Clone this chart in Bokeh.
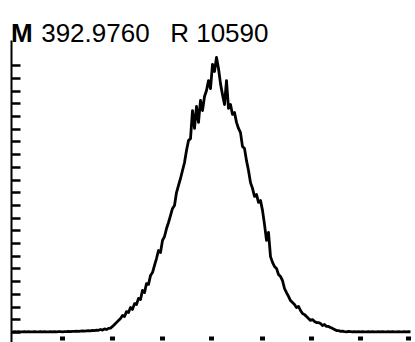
import numpy as np
from bokeh.plotting import figure
from bokeh.models import Range1d, FixedTicker, Label, CustomJSTickFormatter
from bokeh.embed import file_html
from bokeh.resources import INLINE

# sampling grid of the isotope envelope (arbitrary channel units)
channel = np.arange(12, 412, 2)

# relative intensity (%)
intensity = [
    # flat start
    0.2, 0.3, 0.2, 0.3, 0.2, 0.2, 0.3, 0.2, 0.3, 0.2,
    0.2, 0.3, 0.2, 0.2, 0.3, 0.2, 0.3, 0.2, 0.2, 0.3,
    0.2, 0.3, 0.2, 0.3, 0.3, 0.2, 0.3, 0.3, 0.4, 0.3,
    0.4, 0.4, 0.5, 0.4, 0.5, 0.6, 0.5, 0.6, 0.7, 0.6, 0.8, 0.7, 0.9, 0.8,
    # rising edge
    1.1, 0.9, 1.3, 1.1, 1.5, 1.6, 2.2, 2.9, 3.6, 4.4,
    5.1, 6.2, 5.8, 7.6, 7.3, 9.1, 8.4, 10.5, 10.2, 12.4,
    12.0, 15.3, 14.5, 17.8, 17.5, 20.7, 21.8, 24.4, 26.9, 29.8,
    29.1, 33.5, 34.9, 37.8, 40.0, 42.5, 45.1, 46.2, 50.9, 53.5,
    56.0, 58.9, 61.8,
    # top
    66.2, 69.8, 70.5, 80.7, 74.2, 82.2, 76.4, 84.4, 80.7, 85.8,
    88.0, 91.6, 88.7, 97.5, 94.9, 100.0, 96.0, 90.5, 86.5, 82.9,
    91.6, 81.5, 82.9, 79.3, 80.0, 76.4, 74.2, 72.7, 67.6, 66.9,
    62.5, 58.9, 54.5, 52.4, 49.5, 50.2, 47.3, 48.0, 44.4, 39.3,
    33.5, 36.4, 27.6, 25.5,
    # falling edge
    24.0, 23.3, 21.1, 20.4, 18.9, 16.0, 14.5, 13.1, 11.6, 10.9,
    10.2, 9.1, 9.5, 8.0, 6.9, 6.5, 5.8, 5.1, 4.4, 4.7,
    4.0, 3.6, 3.6, 3.3, 2.5, 2.9, 2.2, 2.2, 1.8, 1.5,
    1.1, 0.7, 0.7, 0.4, 0.5,
    # flat end
    0.3, 0.2, 0.4, 0.3, 0.2, 0.3, 0.2, 0.3, 0.2, 0.3,
    0.2, 0.2, 0.3, 0.2, 0.3, 0.2, 0.2, 0.3, 0.2, 0.3,
    0.2, 0.2, 0.3, 0.2, 0.3, 0.2, 0.2, 0.3, 0.2, 0.2,
    0.3, 0.2, 0.3, 0.2,
]

x_ticks = [62, 112, 162, 211, 262, 311, 360, 408]
y_ticks = [0.0, 4.62, 9.24, 13.86, 18.48, 23.1, 27.72, 32.34, 36.96, 41.58, 46.2,
           50.82, 55.44, 60.06, 64.68, 69.3, 73.92, 78.54, 83.16, 87.78, 92.4, 97.02]

title_m = "M"
title_mass = "392.9760"
title_res = "R 10590"

# frame covers the whole canvas; axes are pinned inside it
p = figure(width=415, height=342, output_backend="svg", toolbar_location=None,
           x_range=Range1d(0, 415), y_range=Range1d(-3.636, 120.727),
           min_border_left=0, min_border_right=0, min_border_top=0, min_border_bottom=0)
p.background_fill_color = "white"
p.border_fill_color = "white"
p.outline_line_color = None
p.grid.visible = False

blank = CustomJSTickFormatter(code="return ''")

xa = p.xaxis[0]
xa.fixed_location = -1.4545
xa.ticker = FixedTicker(ticks=x_ticks)
xa.formatter = blank
xa.axis_line_color = None
xa.major_tick_out = 4
xa.major_tick_in = 0
xa.major_tick_line_width = 5
xa.major_tick_line_color = "black"
xa.minor_tick_line_color = None

ya = p.yaxis[0]
ya.fixed_location = 11
ya.bounds = (-3.636, 106.18)
ya.ticker = FixedTicker(ticks=y_ticks)
ya.formatter = blank
ya.axis_line_width = 2
ya.axis_line_color = "black"
ya.major_tick_out = 0
ya.major_tick_in = 9
ya.major_tick_line_width = 2.5
ya.major_tick_line_color = "black"
ya.minor_tick_line_color = None

p.line(channel, intensity, line_color="black", line_width=2.8, line_join="round")

font = "Liberation Sans"
p.add_layout(Label(x=10.5, y=108.98, text=title_m, text_font=font, text_font_size="26px",
                   text_font_style="bold", text_baseline="alphabetic", text_align="left",
                   text_color="black"))
p.add_layout(Label(x=40.7, y=108.98, text=title_mass, text_font=font, text_font_size="26px",
                   text_baseline="alphabetic", text_align="left", text_color="black"))
p.add_layout(Label(x=169.7, y=108.98, text=title_res, text_font=font, text_font_size="26px",
                   text_baseline="alphabetic", text_align="left", text_color="black"))

open("out.html", "w").write(file_html(p, INLINE))
